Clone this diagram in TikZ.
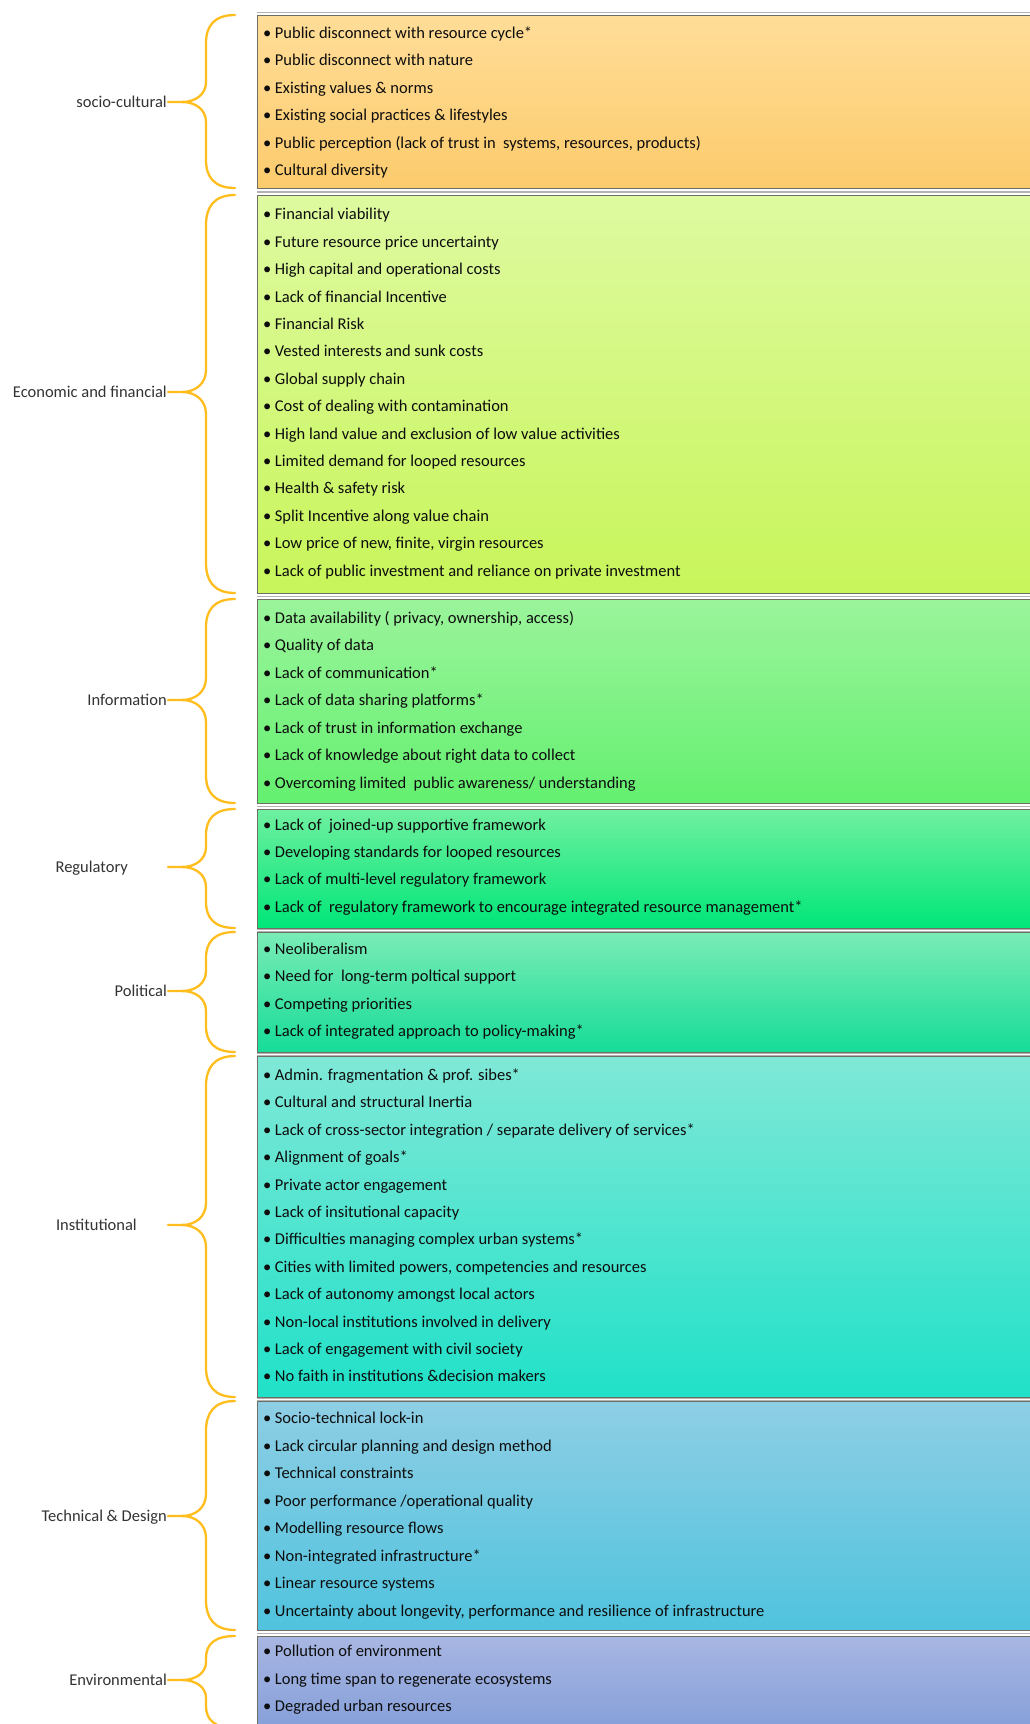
\documentclass[tikz,border=0pt]{standalone}
\usepackage{fontspec}
\setmainfont{Carlito}
\definecolor{braceGold}{RGB}{255,190,30}
\definecolor{edge}{RGB}{110,110,100}
\definecolor{cAt}{RGB}{255,221,152}\definecolor{cAb}{RGB}{252,203,108}
\definecolor{cBt}{RGB}{222,250,160}\definecolor{cBb}{RGB}{200,245,90}
\definecolor{cCt}{RGB}{155,244,155}\definecolor{cCb}{RGB}{100,240,112}
\definecolor{cDt}{RGB}{112,240,160}\definecolor{cDb}{RGB}{0,230,120}
\definecolor{cEt}{RGB}{122,236,182}\definecolor{cEb}{RGB}{22,220,152}
\definecolor{cFt}{RGB}{128,232,215}\definecolor{cFb}{RGB}{32,225,200}
\definecolor{cGt}{RGB}{142,206,228}\definecolor{cGb}{RGB}{80,195,222}
\definecolor{cHt}{RGB}{168,182,226}\definecolor{cHb}{RGB}{122,152,214}
\tikzset{
  item/.style={anchor=base west, inner sep=0pt, font=\fontsize{16.5}{19}\selectfont, text=black!95},
  cat/.style={anchor=base east, inner sep=0pt, font=\fontsize{16.5}{19}\selectfont, text=black!80},
  bracepath/.style={draw=braceGold, line width=2.3pt, line cap=round},
}
\newcommand\drawpanel[4]{%
  \draw[black!30, line width=0.8pt] (257,#1-3) -- (1040,#1-3) (257,#2+3) -- (1040,#2+3);
  \path[top color=#3, bottom color=#4, draw=edge, line width=1pt] (257,#1) rectangle (1040,#2);}
\newcommand\drawbrace[5]{% top mid bottom topcurve midcurve
  \draw[bracepath] (235,#1) .. controls (214,#1) and (206,#1+#4*0.4) .. (206,#1+#4)
     -- (206,#2-#5) .. controls (206,#2-#5*0.4) and (196,#2) .. (182,#2) -- (168,#2);
  \draw[bracepath] (182,#2) .. controls (196,#2) and (206,#2+#5*0.4) .. (206,#2+#5)
     -- (206,#3-#4) .. controls (206,#3-#4*0.4) and (214,#3) .. (235,#3);}
\newcommand\items[4]{% prefix, start y, step, list
  \foreach \t [count=\i] in {#4}
    \node[item] (#1-\i) at (263,#2+#3*\i-#3+5.5) {•\kern3.5pt\t};}
\begin{document}
\begin{tikzpicture}[x=1pt,y=-1pt]
\useasboundingbox (0,0) rectangle (1030,1724);
\clip (0,0) rectangle (1030,1724);
\fill[white] (0,0) rectangle (1030,1724);

% panels
\drawpanel{15}{188}{cAt}{cAb}
\drawpanel{195}{593}{cBt}{cBb}
\drawpanel{599}{803}{cCt}{cCb}
\drawpanel{809}{928}{cDt}{cDb}
\drawpanel{932}{1052}{cEt}{cEb}
\drawpanel{1056}{1397}{cFt}{cFb}
\drawpanel{1401}{1630}{cGt}{cGb}
\drawpanel{1636}{1760}{cHt}{cHb}

% braces
\drawbrace{15}{102}{188}{28}{20}
\drawbrace{195}{392}{593}{30}{22}
\drawbrace{599}{700}{803}{28}{22}
\drawbrace{809}{867}{928}{26}{20}
\drawbrace{932}{991}{1052}{26}{20}
\drawbrace{1056}{1225}{1397}{30}{22}
\drawbrace{1401}{1516}{1630}{30}{22}
\drawbrace{1636}{1680}{1728}{22}{18}

% category labels
\node[cat] (socio) at (167,107) {socio-cultural};
\node[cat] (econ) at (167,397) {Economic and financial};
\node[cat] (info) at (167,705) {Information};
\node[cat] (regu) at (128,872) {Regulatory};
\node[cat] (poli) at (167,996) {Political};
\node[cat] (inst) at (137,1230) {Institutional};
\node[cat] (tech) at (167,1521) {Technical \& Design};
\node[cat] (envi) at (167,1685) {Environmental};

% items
\items{a}{33}{27.4}{Public disconnect with resource cycle*, Public disconnect with nature, Existing values \& norms, Existing social practices \& lifestyles, {Public perception (lack of trust in \ systems, resources, products)}, Cultural diversity}
\items{b}{214.4}{27.4}{Financial viability, Future resource price uncertainty, High capital and operational costs, Lack of financial Incentive, Financial Risk, Vested interests and sunk costs, Global supply chain, Cost of dealing with contamination, High land value and exclusion of low value activities, Limited demand for looped resources, Health \& safety risk, Split Incentive along value chain, {Low price of new, finite, virgin resources}, Lack of public investment and reliance on private investment}
\items{c}{617.8}{27.45}{{Data availability ( privacy, ownership, access)}, Quality of data, Lack of communication*, Lack of data sharing platforms*, Lack of trust in information exchange, Lack of knowledge about right data to collect, Overcoming limited \ public awareness/ understanding}
\items{d}{824.5}{27.45}{Lack of \ joined-up supportive framework, Developing standards for looped resources, Lack of multi-level regulatory framework, Lack of \ regulatory framework to encourage integrated resource management*}
\items{e}{948.7}{27.45}{Neoliberalism, Need for \ long-term poltical support, Competing priorities, Lack of integrated approach to policy-making*}
\items{f}{1075}{27.4}{Admin. fragmentation \& prof. sibes*, Cultural and structural Inertia, Lack of cross-sector integration / separate delivery of services*, Alignment of goals*, Private actor engagement, Lack of insitutional capacity, Difficulties managing complex urban systems*, {Cities with limited powers, competencies and resources}, Lack of autonomy amongst local actors, Non-local institutions involved in delivery, Lack of engagement with civil society, No faith in institutions \&decision makers}
\items{g}{1418}{27.5}{Socio-technical lock-in, Lack circular planning and design method, Technical constraints, Poor performance /operational quality, Modelling resource flows, Non-integrated infrastructure*, Linear resource systems, {Uncertainty about longevity, performance and resilience of infrastructure}}
\items{h}{1651}{27.5}{Pollution of environment, Long time span to regenerate ecosystems, Degraded urban resources}
\end{tikzpicture}
\end{document}
